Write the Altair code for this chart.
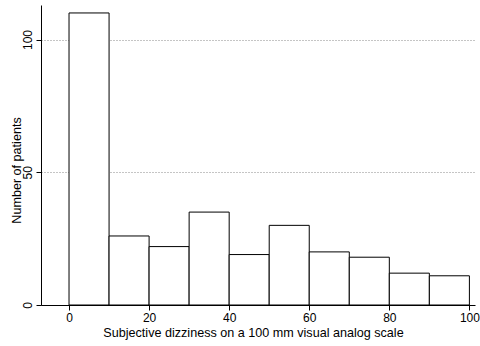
import altair as alt
import pandas as pd

# Histogram of subjective dizziness scores (10 mm bins)
bin_start = [0, 10, 20, 30, 40, 50, 60, 70, 80, 90]
bin_end = [10, 20, 30, 40, 50, 60, 70, 80, 90, 100]
patients = [110, 26, 22, 35, 19, 30, 20, 18, 12, 11]

x_ticks = [0, 20, 40, 60, 80, 100]
y_ticks = [0, 50, 100]

df = pd.DataFrame({"start": bin_start, "end": bin_end, "count": patients})

FONT = "Liberation Sans"

bars = alt.Chart(df).mark_bar(
    fill="white", stroke="black", strokeWidth=1
).encode(
    x=alt.X(
        "start:Q",
        scale=alt.Scale(domain=[-7, 101.4], nice=False, zero=False),
        axis=alt.Axis(
            values=x_ticks,
            title="Subjective dizziness on a 100 mm visual analog scale",
            grid=False,
            tickSize=5,
            labelPadding=2,
            titleX=212,
            titleY=27,
            titleBaseline="middle",
            titleAnchor="start",
            titleAlign="center",
        ),
    ),
    x2="end:Q",
    y=alt.Y(
        "count:Q",
        scale=alt.Scale(domain=[0, 113], nice=False),
        axis=alt.Axis(
            values=y_ticks,
            title="Number of patients",
            grid=True,
            gridDash=[1, 2],
            gridColor="#8a8a8a",
            gridWidth=1,
            tickSize=5,
            labelAngle=270,
            labelAlign="center",
            labelBaseline="alphabetic",
            labelPadding=5,
            titleAngle=270,
            titleX=-25,
            titleY=165,
            titleBaseline="middle",
            titleAlign="center",
        ),
    ),
    y2=alt.datum(0),
)

chart = bars.properties(
    width=434,
    height=300,
    autosize=alt.AutoSizeParams(type="none"),
    padding={"left": 41, "top": 5, "right": 5, "bottom": 41},
    background="white",
).configure_view(
    stroke=None
).configure_axis(
    domainColor="black",
    tickColor="black",
    labelColor="black",
    titleColor="black",
    labelFont=FONT,
    titleFont=FONT,
    labelFontSize=12,
    titleFontSize=12.6,
    titleFontWeight="normal",
    domainWidth=1,
    tickWidth=1,
)

chart.save("out.html", embed_options={"renderer": "svg", "actions": False})
